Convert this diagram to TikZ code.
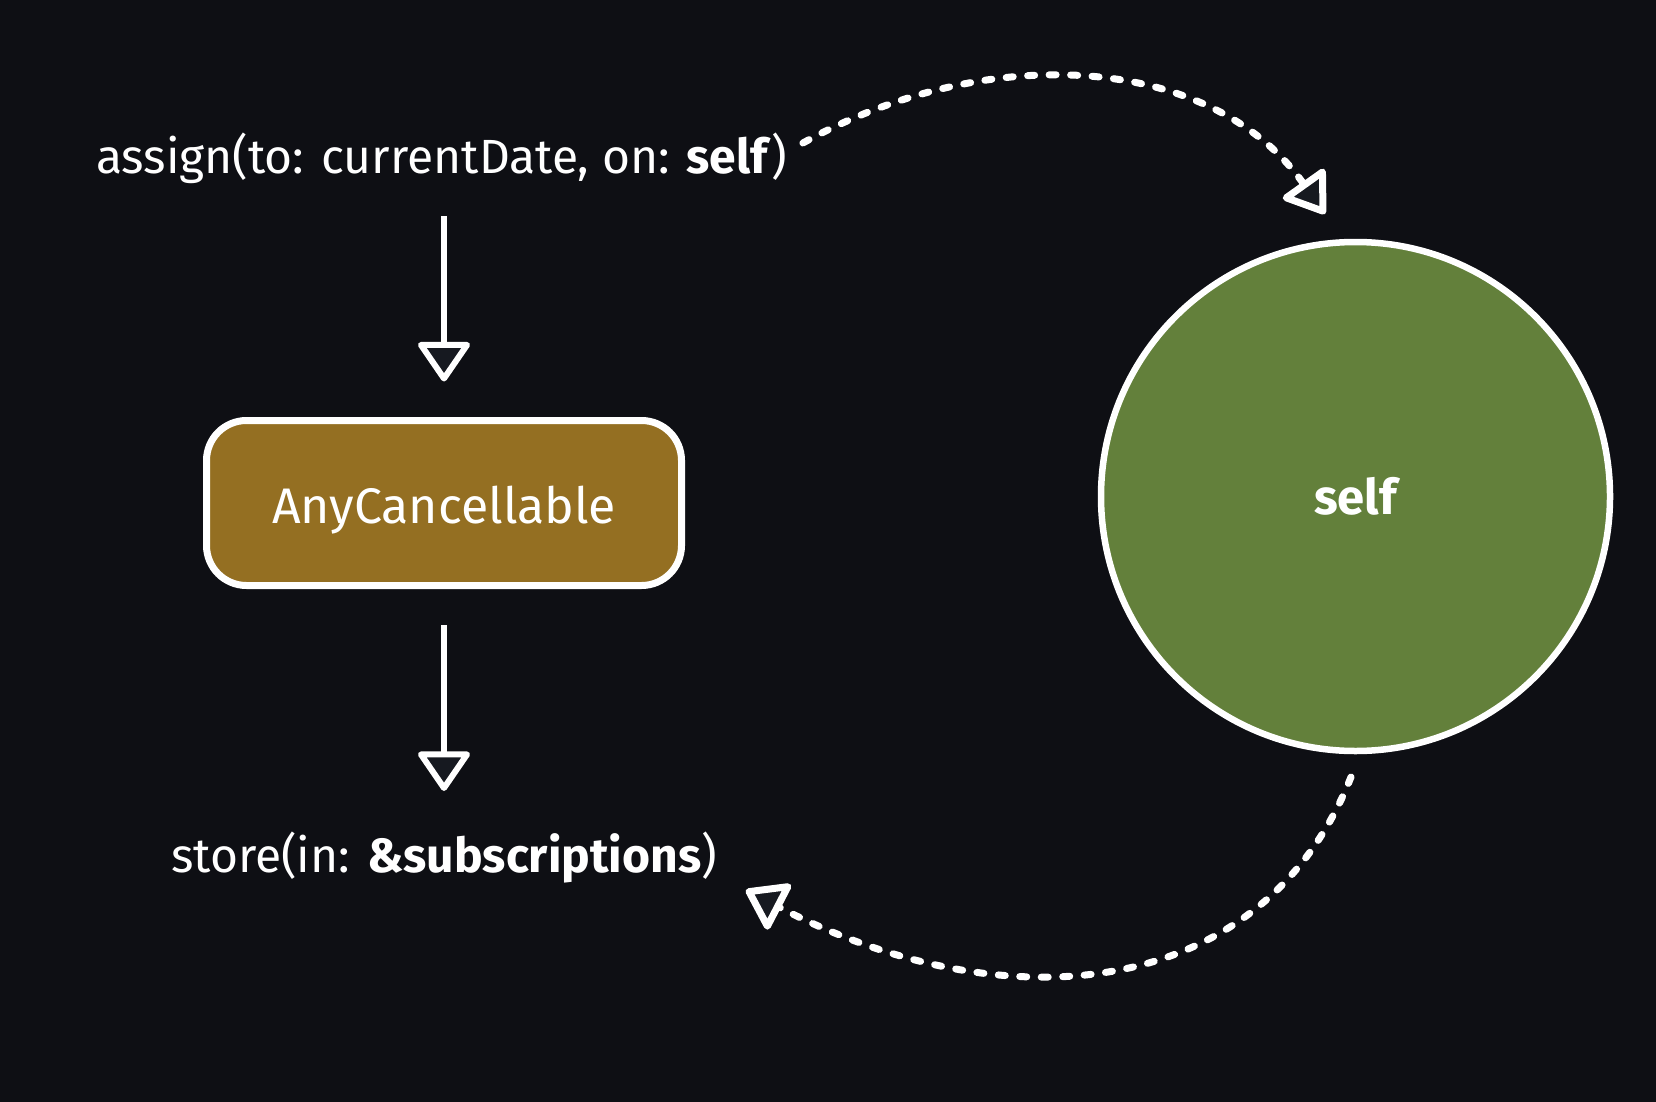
\documentclass[tikz,border=0pt]{standalone}
\usepackage{fontspec}
\setmainfont{Fira Sans}
\usetikzlibrary{arrows.meta}
\definecolor{bgc}{HTML}{0E0F14}
\definecolor{tipfill}{HTML}{161920}
\definecolor{boxfill}{HTML}{946F22}
\definecolor{selffill}{HTML}{63803B}

\begin{document}
\begin{tikzpicture}[x=1pt, y=-1pt,
  every node/.style={inner sep=0pt, outer sep=0pt, text=white},
  txt/.style={font=\fontsize{48}{56}\selectfont, text height=34pt, text depth=12pt},
  arrowline/.style={draw=white, line width=6pt, -{Triangle[length=42pt, width=56pt, fill=tipfill, round]}},
  dashflow/.style={arrowline, line width=7pt, line cap=round, dash pattern=on 7pt off 14.5pt}]
% Background
\fill[bgc] (0,0) rectangle (1656,1102);

% Texts
\node[txt, anchor=base] (assign) at (441.5,174) {assign(to: currentDate, on: \textbf{self})};
\node[txt, anchor=base] (store) at (444,872) {store(in: \textbf{\&subscriptions})};

% AnyCancellable box
\node[draw=white, line width=7pt, fill=boxfill, rounded corners=40pt, minimum width=475pt, minimum height=165pt,
  font=\fontsize{50}{58}\selectfont, text height=40pt, text depth=0pt] (cancel) at (444,503) {AnyCancellable};

% self circle
\node[circle, draw=white, line width=6.5pt, fill=selffill, minimum size=509pt,
  font=\bfseries\fontsize{49}{58}\selectfont, text height=36pt, text depth=0pt] (selfc) at (1355.5,496.5) {self};

% Straight arrows
\draw[arrowline, shorten <=30pt, shorten >=39pt] (cancel.north |- assign.south) -- (cancel.north);
\draw[arrowline, shorten <=39.5pt, shorten >=47pt] (cancel.south) -- (cancel.south |- store.north);

% Dashed arrows
\draw[dashflow] ([shift={(16,3)}]assign.north east) .. controls +(188,-104) and +(-113,-159) .. ([shift={(-30.5,-28)}]selfc.north);
\draw[dashflow] ([shift={(-4.5,26)}]selfc.south) .. controls +(-87,220) and +(266,138) .. ([shift={(29,6)}]store.south east);
\end{tikzpicture}
\end{document}
